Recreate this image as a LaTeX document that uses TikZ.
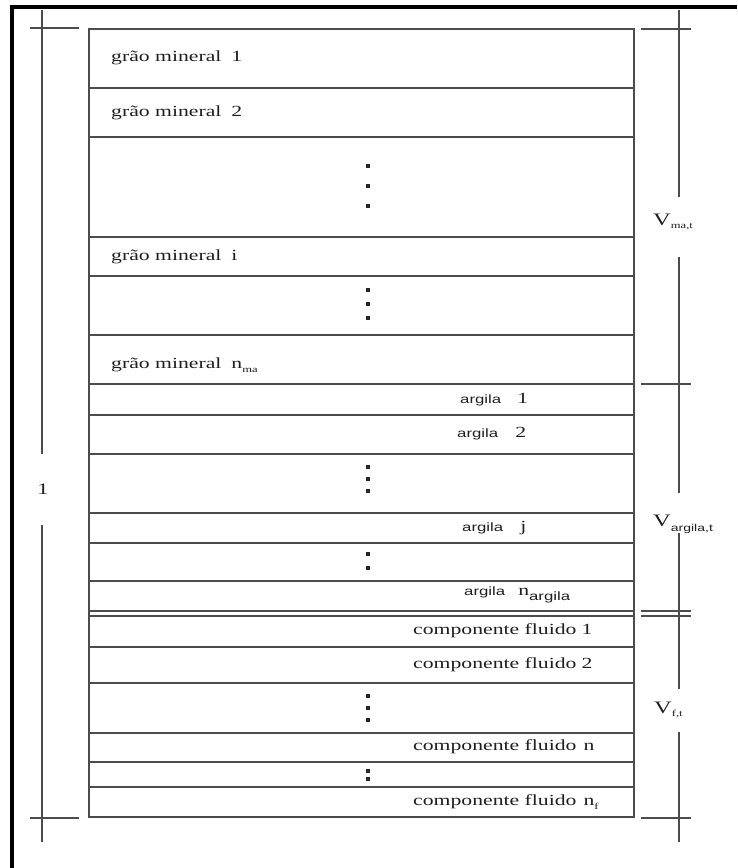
\documentclass[tikz,border=0pt]{standalone}
\usepackage{fontspec}
\setmainfont{Liberation Serif}[FakeStretch=1.4]
\newfontfamily\san{Liberation Sans}[FakeStretch=1.4]
\newcommand\mysub[2][9]{\raisebox{-3.5pt}{\fontsize{#1}{#1}\selectfont #2}}
\definecolor{ln}{rgb}{0.3,0.3,0.3}
\begin{document}
\begin{tikzpicture}[x=1pt,y=-1pt,
  boxline/.style={draw=ln,line width=1.7pt},
  dimline/.style={draw=ln,line width=1.5pt},
  ser/.style={inner sep=0pt,font=\fontsize{15.5}{17}\selectfont,text=black!88},
  sanl/.style={inner sep=0pt,font=\fontsize{15.5}{17}\selectfont,text=black!88},
  vdot/.style={fill=black!85,rectangle,inner sep=0pt,minimum size=3.6pt}]
\useasboundingbox (0,0) rectangle (737,868);
% outer frame
\draw[line width=3.5pt,black] (12,868) -- (12,7) -- (737,7);
% box
\draw[boxline] (89,29) rectangle (634,817);
\foreach \yy in {88,137,237,276,335,384,415,454,513,543,581,611,616,647,683,733,762,787}
  \draw[boxline] (89,\yy) -- (634,\yy);
% texts
\node[ser,anchor=west] (gm1) at (111,58) {grão mineral\hspace{10pt}1};
\node[ser,anchor=west] (gm2) at (111,113) {grão mineral\hspace{10pt}2};
\node[ser,anchor=west] (gmi) at (111,257) {grão mineral\hspace{10pt}i};
\node[ser,anchor=west] (gmn) at (111,365) {grão mineral\hspace{10pt}n\mysub{ma}};
\node[sanl,anchor=west] (ar1) at (460,400) {{\san\fontsize{12}{13}\selectfont argila}\hspace{16pt}1};
\node[sanl,anchor=west] (ar2) at (457,434) {{\san\fontsize{12}{13}\selectfont argila}\hspace{17pt}2};
\node[sanl,anchor=west] (arj) at (462,528) {{\san\fontsize{12}{13}\selectfont argila}\hspace{17pt}j};
\node[sanl,anchor=west] (arn) at (464,595) {{\san\fontsize{12}{13}\selectfont argila}\hspace{13pt}n{\raisebox{-5pt}{\san\fontsize{12}{13}\selectfont argila}}};
\node[ser,anchor=west] (cf1) at (413,631) {componente fluido\hspace{5pt}1};
\node[ser,anchor=west] (cf2) at (413,665) {componente fluido\hspace{5pt}2};
\node[ser,anchor=west] (cfn) at (413,747) {componente fluido\hspace{7pt}n};
\node[ser,anchor=west] (cff) at (413,802) {componente fluido\hspace{7pt}n\mysub[9]{f}};
% dots
\foreach \yy in {166,186,206, 290,304,318, 467,479,491, 554,568, 696,708,720, 771,779}
  \node[vdot] at (368,\yy) {};
% left dimension
\draw[dimline] (42,10) -- (42,454);
\draw[dimline] (42,525) -- (42,842);
\draw[dimline] (30,28) -- (79,28);
\draw[dimline] (30,818) -- (79,818);
\node[ser,font=\fontsize{16}{18}\selectfont] (one) at (43,489) {1};
% right dimension
\draw[dimline] (679,10) -- (679,197);
\draw[dimline] (679,257) -- (679,493);
\draw[dimline] (679,533) -- (679,689);
\draw[dimline] (679,732) -- (679,842);
\foreach \yy in {29,384,611,616,818}
  \draw[dimline] (641,\yy) -- (691,\yy);
\node[ser,anchor=base west,font=\fontsize{17.5}{19}\selectfont] (vma) at (653,225) {V\mysub[9]{ma,t}};
\node[ser,anchor=base west,font=\fontsize{17.5}{19}\selectfont] (var) at (653,526) {V\raisebox{-5pt}{\san\fontsize{10}{11}\selectfont argila,t}};
\node[ser,anchor=base west,font=\fontsize{17.5}{19}\selectfont] (vf) at (654,713) {V\mysub[9]{f,t}};
\end{tikzpicture}
\end{document}
